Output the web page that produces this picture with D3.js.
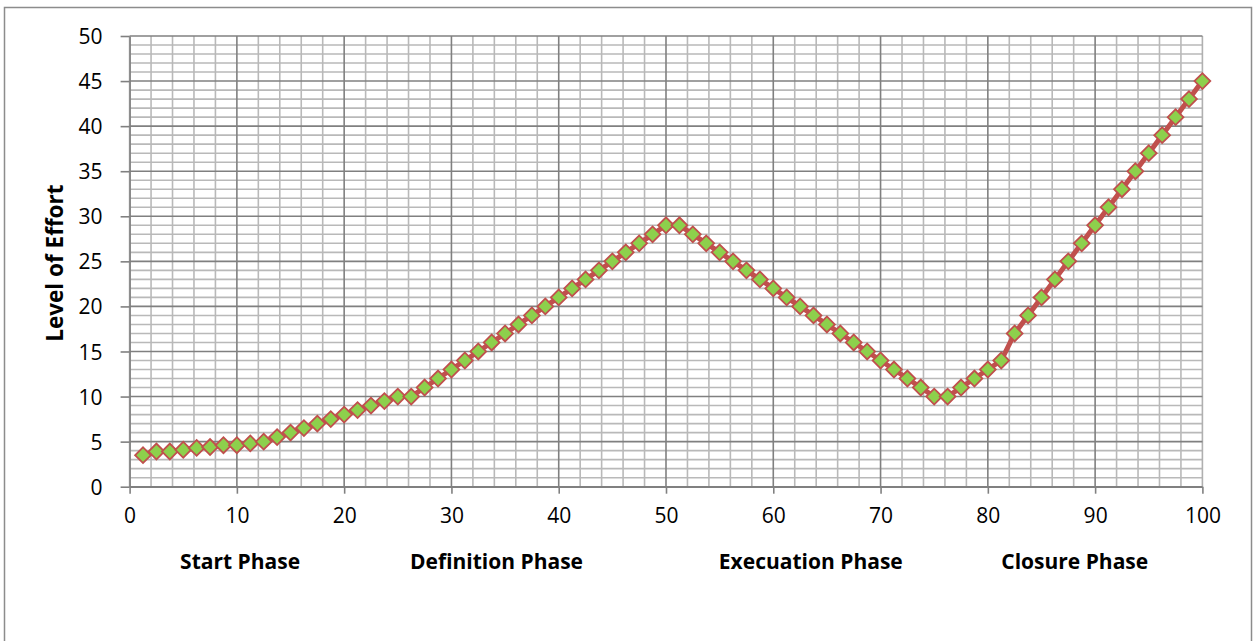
<!doctype html>
<html>
<head>
<meta charset="utf-8">
<title>Level of Effort by Phase</title>
<script src="https://d3js.org/d3.v7.min.js"></script>
<style type="text/css">
	body { margin: 0; background: #fff; }
	.tick-label {
		font-size: 21px;
		font-family: "Open Sans", "Noto Sans", sans-serif;
		fill: #000;
	}
	.phase, .ytitle {
		font-size: 21px;
		font-weight: bold;
		font-family: "Open Sans", "Noto Sans", sans-serif;
		fill: #000;
	}
	.ytitle { font-size: 22.5px; }
</style>
</head>
<body>
<script>
	// x positions of the points (percent of project)
	var xValues = [1.25, 2.5, 3.75, 5, 6.25, 7.5, 8.75, 10, 11.25, 12.5,
		13.75, 15, 16.25, 17.5, 18.75, 20, 21.25, 22.5, 23.75, 25,
		26.25, 27.5, 28.75, 30, 31.25, 32.5, 33.75, 35, 36.25, 37.5,
		38.75, 40, 41.25, 42.5, 43.75, 45, 46.25, 47.5, 48.75, 50,
		51.25, 52.5, 53.75, 55, 56.25, 57.5, 58.75, 60, 61.25, 62.5,
		63.75, 65, 66.25, 67.5, 68.75, 70, 71.25, 72.5, 73.75, 75,
		76.25, 77.5, 78.75, 80, 81.25, 82.5, 83.75, 85, 86.25, 87.5,
		88.75, 90, 91.25, 92.5, 93.75, 95, 96.25, 97.5, 98.75, 100];
	// level of effort
	var effort = [3.5, 3.9, 3.9, 4.1, 4.3, 4.4, 4.6, 4.6, 4.8, 5,
		5.5, 6, 6.5, 7, 7.5, 8, 8.5, 9, 9.5, 10,
		10, 11, 12, 13, 14, 15, 16, 17, 18, 19,
		20, 21, 22, 23, 24, 25, 26, 27, 28, 29,
		29, 28, 27, 26, 25, 24, 23, 22, 21, 20,
		19, 18, 17, 16, 15, 14, 13, 12, 11, 10,
		10, 11, 12, 13, 14, 17, 19, 21, 23, 25,
		27, 29, 31, 33, 35, 37, 39, 41, 43, 45];

	var xTicks = [0, 10, 20, 30, 40, 50, 60, 70, 80, 90, 100];
	var yTicks = [0, 5, 10, 15, 20, 25, 30, 35, 40, 45, 50];
	var phases = ["Start Phase", "Definition Phase", "Execuation Phase", "Closure Phase"];
	var phaseCenters = [10.3, 34.2, 63.5, 88.1];
	var yTitle = "Level of Effort";

	var w = 1259;
	var h = 641;

	var svg = d3.select("body")
				.append("svg")
				.attr("width", w)
				.attr("height", h);

	var xScale = d3.scaleLinear().domain([0, 100]).range([129.6, 1202.4]);
	var yScale = d3.scaleLinear().domain([0, 50]).range([486.7, 36]);

	// chart border
	svg.append("rect")
		.attr("x", 4.5)
		.attr("y", 7.5)
		.attr("width", 1247)
		.attr("height", 645)
		.attr("fill", "none")
		.attr("stroke", "#8c8c8c")
		.attr("stroke-width", 1.5);

	// minor grid
	var minorX = d3.range(0, 101, 2).filter(function(d) { return d % 10 != 0; });
	var minorY = d3.range(0, 51, 1).filter(function(d) { return d % 5 != 0; });

	var grid = svg.append("g");
	grid.selectAll(".mx")
		.data(minorX)
		.enter()
		.append("line")
		.attr("x1", function(d) { return xScale(d); })
		.attr("x2", function(d) { return xScale(d); })
		.attr("y1", yScale(0))
		.attr("y2", yScale(50))
		.attr("stroke", "#b9b9b9")
		.attr("stroke-width", 1.6);
	grid.selectAll(".my")
		.data(minorY)
		.enter()
		.append("line")
		.attr("x1", xScale(0))
		.attr("x2", xScale(100))
		.attr("y1", function(d) { return yScale(d); })
		.attr("y2", function(d) { return yScale(d); })
		.attr("stroke", "#b9b9b9")
		.attr("stroke-width", 1.6);

	// major grid
	grid.selectAll(".Mx")
		.data(xTicks)
		.enter()
		.append("line")
		.attr("x1", function(d) { return xScale(d); })
		.attr("x2", function(d) { return xScale(d); })
		.attr("y1", yScale(0))
		.attr("y2", yScale(50))
		.attr("stroke", function(d) { return (d == 0 || d == 100) ? "#b0b0b0" : "#808080"; })
		.attr("stroke-width", 1.6);
	grid.selectAll(".My")
		.data(yTicks)
		.enter()
		.append("line")
		.attr("x1", xScale(0))
		.attr("x2", xScale(100))
		.attr("y1", function(d) { return yScale(d); })
		.attr("y2", function(d) { return yScale(d); })
		.attr("stroke", "#808080")
		.attr("stroke-width", 1.6);

	// axes
	var xAxis = d3.axisBottom(xScale).tickValues(xTicks).tickSize(7).tickPadding(14).tickSizeOuter(0);
	var yAxis = d3.axisLeft(yScale).tickValues(yTicks).tickSize(9).tickPadding(18).tickSizeOuter(0);

	var gx = svg.append("g")
		.attr("transform", "translate(0," + yScale(0) + ")")
		.call(xAxis);
	var gy = svg.append("g")
		.attr("transform", "translate(" + xScale(0) + ",0)")
		.call(yAxis);

	[gx, gy].forEach(function(g) {
		g.select(".domain").attr("stroke", "#808080").attr("stroke-width", 1.6);
		g.selectAll(".tick line").attr("stroke", "#808080").attr("stroke-width", 1.6);
		g.selectAll(".tick text").attr("class", "tick-label").attr("font-size", null).attr("font-family", null);
	});
	gy.selectAll(".tick text").attr("dy", "0.36em");

	// line + markers
	var points = xValues.map(function(x, i) { return { x: x, y: effort[i] }; });

	var line = d3.line()
		.x(function(d) { return xScale(d.x); })
		.y(function(d) { return yScale(d.y); });

	svg.append("path")
		.datum(points)
		.attr("d", line)
		.attr("fill", "none")
		.attr("stroke", "#c0504d")
		.attr("stroke-width", 5)
		.attr("stroke-linejoin", "round");

	var diamond = d3.symbol().type(d3.symbolSquare).size(125);

	svg.append("g")
		.selectAll("path")
		.data(points)
		.enter()
		.append("path")
		.attr("d", diamond)
		.attr("transform", function(d) {
			return "translate(" + xScale(d.x) + "," + yScale(d.y) + ") rotate(45)";
		})
		.attr("fill", "#8dd04c")
		.attr("stroke", "#c0504d")
		.attr("stroke-width", 1.8);

	// phase labels
	svg.append("g")
		.selectAll("text")
		.data(phases)
		.enter()
		.append("text")
		.attr("class", "phase")
		.attr("x", function(d, i) { return xScale(phaseCenters[i]); })
		.attr("y", 569)
		.attr("text-anchor", "middle")
		.text(function(d) { return d; });

	svg.append("text")
		.attr("class", "ytitle")
		.attr("transform", "translate(63," + yScale(24.8) + ") rotate(-90)")
		.attr("text-anchor", "middle")
		.text(yTitle);
</script>
</body>
</html>
